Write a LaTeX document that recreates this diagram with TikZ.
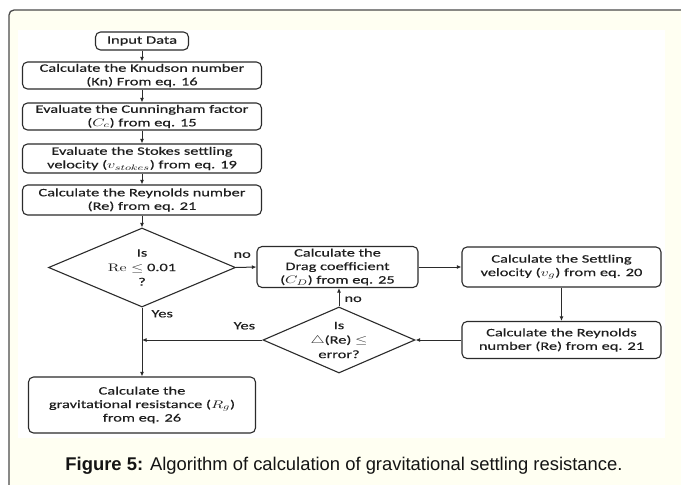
\documentclass[tikz,border=0pt]{standalone}
\usepackage[no-math]{fontspec}
\usepackage{graphicx}
\setmainfont[FakeStretch=1.45, FakeBold=0.35]{Carlito}
\newfontfamily\capfont{Liberation Sans}
\usetikzlibrary{arrows.meta,shapes.geometric}

% wide math to match the stretched text face
\newcommand\wm[1]{\scalebox{1.45}[1]{$#1$}}

\definecolor{panelcream}{HTML}{FFFFF2}
\definecolor{panelline}{HTML}{4A4A4A}
\definecolor{inkline}{HTML}{2B2B2B}
\definecolor{inktext}{HTML}{1E1E1E}

\tikzset{
  procbox/.style={draw=inkline, line width=1.1pt, fill=white, rounded corners=5pt,
    align=center, inner sep=0pt, text=inktext},
  decision/.style={diamond, draw=inkline, line width=1.1pt, fill=white,
    align=center, inner sep=0pt, text=inktext,
    font=\fontsize{11.3}{14.5}\selectfont},
  flow/.style={draw=inkline, line width=1pt, -{Latex[length=4.5pt,width=4pt]}},
  tag/.style={text=inktext, inner sep=1pt}
}

\begin{document}
\begin{tikzpicture}[x=1pt, y=-1pt, font=\fontsize{11.3}{13.5}\selectfont]
  \useasboundingbox (0,0) rectangle (681,485);
  \clip (0,0) rectangle (681,485);
  \fill[white] (0,0) rectangle (681,485);

  % figure panel
  \fill[panelcream, rounded corners=5pt] (9,10) rectangle (720,520);
  \draw[panelline, line width=1.3pt, rounded corners=5pt] (9,520) -- (9,10) -- (720,10);
  \fill[white] (18,30) rectangle (665,438);

  % main column
  \node[procbox, minimum width=93pt, minimum height=18pt] (input) at (142,41) {Input Data};
  \node[procbox, minimum width=239pt, minimum height=27pt] (kn) at (142,75.5)
    {Calculate the Knudson number\\(Kn) From eq. 16};
  \node[procbox, minimum width=239pt, minimum height=27pt] (cc) at (142,116.5)
    {Evaluate the Cunningham factor\\(\wm{C_c}) from eq. 15};
  \node[procbox, minimum width=239pt, minimum height=29pt] (vs) at (142,158.5)
    {Evaluate the Stokes settling\\velocity (\wm{v_{stokes}}) from eq. 19};
  \node[procbox, minimum width=239pt, minimum height=30pt] (re1) at (142,200)
    {Calculate the Reynolds number\\(Re) from eq. 21};
  \node[decision, aspect=2.37, minimum width=187pt, minimum height=79pt] (d1) at (142,267.5)
    {Is\\\wm{\mathrm{Re}\le} 0.01\\?};
  \node[procbox, minimum width=227pt, minimum height=56pt] (grav) at (142,405)
    {Calculate the\\gravitational resistance (\wm{R_g})\\from eq. 26};

  % iteration loop
  \node[procbox, minimum width=161pt, minimum height=41pt] (drag) at (337.5,267)
    {Calculate the\\Drag coefficient\\(\wm{C_D}) from eq. 25};
  \node[procbox, minimum width=199pt, minimum height=40pt] (settle) at (561.5,267)
    {Calculate the Settling\\velocity (\wm{v_g}) from eq. 20};
  \node[procbox, minimum width=199pt, minimum height=37pt] (re2) at (561.5,340)
    {Calculate the Reynolds\\number (Re) from eq. 21};
  \node[decision, aspect=2.3, minimum width=152pt, minimum height=66pt] (d2) at (339,340)
    {Is\\\wm{\triangle}(Re) \wm{\le}\\error?};

  \coordinate (join) at (142,340);

  % connectors
  \draw[flow] (input) -- (kn);
  \draw[flow] (kn) -- (cc);
  \draw[flow] (cc) -- (vs);
  \draw[flow] (vs) -- (re1);
  \draw[flow] (re1) -- (d1);
  \draw[flow] (d1.east) -- node[tag, pos=0.3, above=8pt] {no} (drag.west);
  \draw[flow] (drag.east) -- (settle.west);
  \draw[flow] (settle.south) -- (re2.north);
  \draw[flow] (re2.west) -- (d2.east);
  \draw[flow] (d2.north) -- node[tag, right=4pt, yshift=-2pt] {no} (d2.north |- drag.south);
  \draw[flow] (d2.west) -- node[tag, pos=0.15, above=9pt] {Yes} (join);
  \draw[flow] (d1.south) -- node[tag, pos=0.09, right=8pt] {Yes} (grav.north);

  % caption
  \node[text=black!92, inner sep=0pt, anchor=base, font=\capfont\fontsize{18.4}{22}\selectfont] (cap) at (344,470)
    {\textbf{Figure 5:} Algorithm of calculation of gravitational settling resistance.};
\end{tikzpicture}
\end{document}
